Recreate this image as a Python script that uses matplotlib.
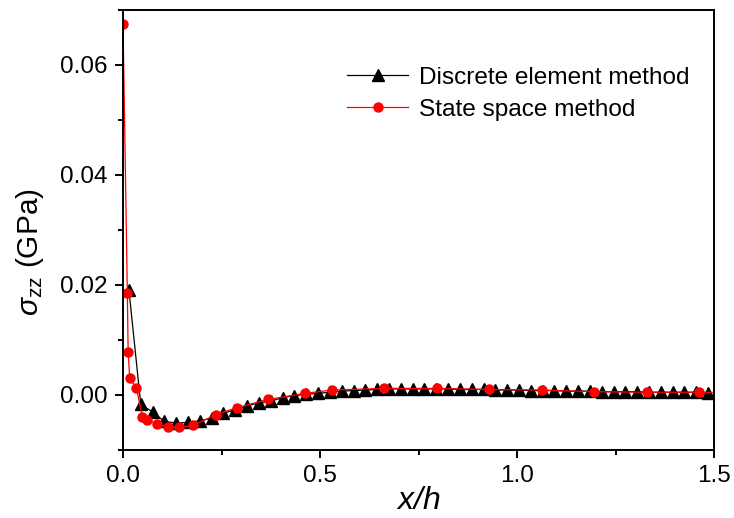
import numpy as np
import matplotlib
matplotlib.use("Agg")
import matplotlib.pyplot as plt
from matplotlib.ticker import MultipleLocator, FormatStrFormatter

plt.rcParams['font.family'] = ['Liberation Sans', 'DejaVu Sans']
plt.rcParams['mathtext.fontset'] = 'custom'
plt.rcParams['mathtext.rm'] = 'Liberation Sans'
plt.rcParams['mathtext.it'] = 'Liberation Sans:italic'

# Discrete element method: cell centres along x/h
dem_x = [0.015 + 0.03 * k for k in range(50)]
dem_y = [0.0191, -0.0017, -0.0031, -0.0048, -0.0051, -0.0050, -0.0047, -0.0042,
         -0.0033, -0.0027, -0.0020, -0.0014, -0.0011, -0.0005, -0.0001, 0.0001,
         0.0003, 0.0005, 0.0007, 0.0008, 0.0009, 0.0010, 0.0011, 0.0011, 0.0011,
         0.0011, 0.0011, 0.0011, 0.0010, 0.0010, 0.0010, 0.0009, 0.0009, 0.0009,
         0.0008, 0.0008, 0.0008, 0.0007, 0.0007, 0.0007, 0.0006, 0.0006, 0.0006,
         0.0006, 0.0005, 0.0005, 0.0005, 0.0005, 0.0005, 0.0004]

# State space method
ssm_x = [0.0, 0.011, 0.013, 0.017, 0.034, 0.049, 0.062, 0.087, 0.115, 0.142,
         0.178, 0.236, 0.289, 0.369, 0.462, 0.530, 0.662, 0.796, 0.929, 1.063,
         1.196, 1.329, 1.463, 1.596]
ssm_y = [0.0675, 0.0185, 0.0078, 0.0030, 0.0013, -0.0040, -0.0046, -0.0052,
         -0.0059, -0.0059, -0.0055, -0.0036, -0.0023, -0.0008, 0.0003, 0.0009,
         0.0012, 0.0012, 0.0010, 0.0009, 0.0006, 0.0005, 0.0005, 0.0004]

fig = plt.figure(figsize=(7.34, 5.18), dpi=100)
ax = fig.add_axes([0.1676, 0.1313, 0.8052, 0.8494])

ax.plot(dem_x, dem_y, color='black', lw=0.9, marker='^', ms=8,
        label='Discrete element method')
ax.plot(ssm_x, ssm_y, color='red', lw=0.9, marker='o', ms=6.5,
        label='State space method')

ax.set_xlim(0, 1.5)
ax.set_ylim(-0.01, 0.07)
ax.xaxis.set_major_locator(MultipleLocator(0.5))
ax.xaxis.set_minor_locator(MultipleLocator(0.25))
ax.yaxis.set_major_locator(MultipleLocator(0.02))
ax.yaxis.set_minor_locator(MultipleLocator(0.01))
ax.xaxis.set_major_formatter(FormatStrFormatter('%.1f'))
ax.yaxis.set_major_formatter(FormatStrFormatter('%.2f'))

for s in ax.spines.values():
    s.set_linewidth(1.4)
ax.tick_params(which='major', direction='out', length=6, width=1.4,
               labelsize=17.5, pad=5)
ax.tick_params(which='minor', direction='out', length=3.5, width=1.4)

ax.set_xlabel(r'$x$/$h$', fontsize=23, labelpad=-1, style='italic')
ax.set_ylabel(r'$\sigma_{\mathrm{zz}}$ (GPa)', fontsize=21.5)
ax.yaxis.set_label_coords(-0.131, 0.45)

ax.legend(loc='upper left', bbox_to_anchor=(0.363, 0.893), frameon=False,
          fontsize=17.6, handlelength=2.5, handletextpad=0.45, labelspacing=0.4,
          borderaxespad=0)

fig.savefig('out.png', dpi=100)
